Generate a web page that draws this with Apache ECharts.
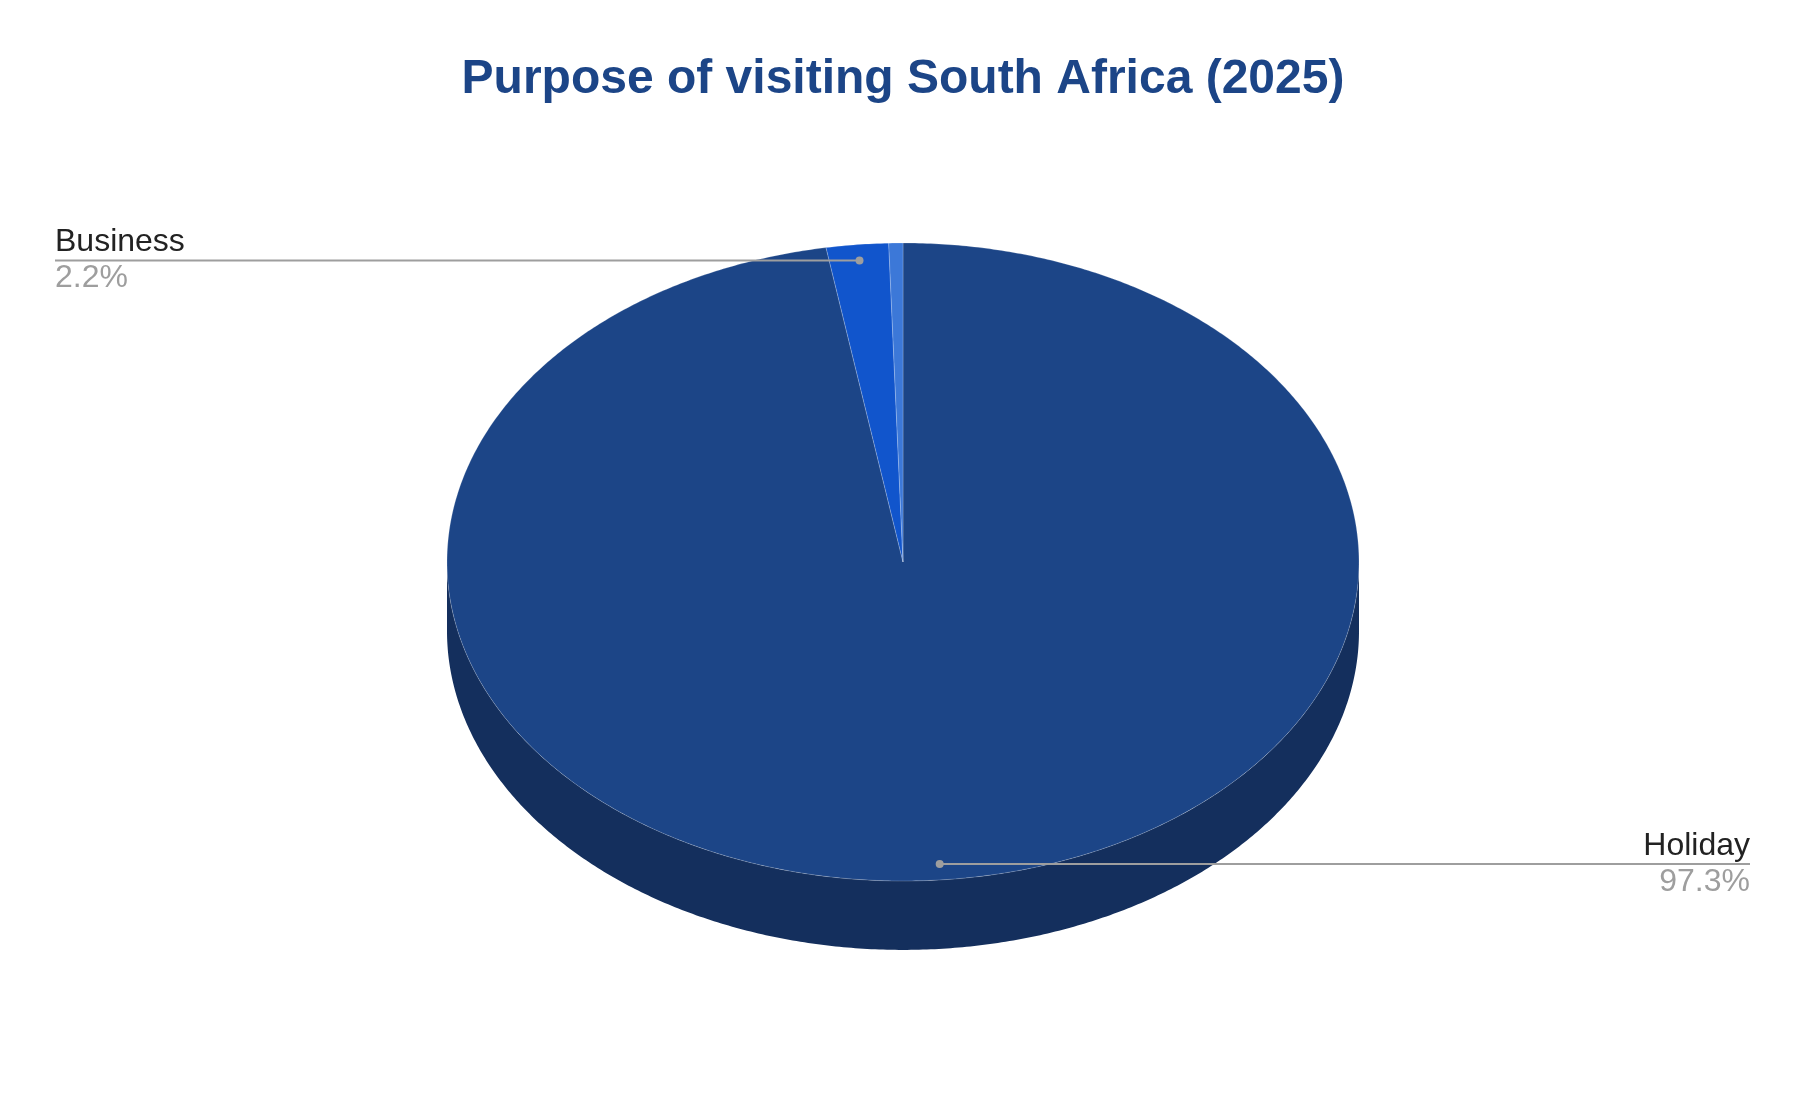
<!DOCTYPE html>
<html>
<head>
<meta charset="utf-8">
<script src="https://cdn.jsdelivr.net/npm/echarts@6/dist/echarts.min.js"></script>
<style>
html, body { margin: 0; padding: 0; background: #ffffff; }
#chart { width: 1806px; height: 1108px; }
</style>
</head>
<body>
<div id="chart"></div>
<script>
// ---- data ----
const categories = ['Holiday', 'Business', 'Other'];
const values = [97.3, 2.2, 0.5];
const showLabels = [true, true, false];
const titleText = 'Purpose of visiting South Africa (2025)';

// ---- styles ----
const topColors = ['#1c4587', '#1155cc', '#3c78d8'];
const sideColors = ['#142f5d', '#0c3c91', '#2a559b'];
const DEPTH = 0.216;           // side wall height relative to vertical radius
const LABEL_FONT = 'Liberation Sans, Arial, sans-serif';

const total = values.reduce((a, b) => a + b, 0);
const starts = [];
(function () { let acc = 0; values.forEach(v => { starts.push(acc); acc += v; }); })();

function sliceAngles(i) {
  return [starts[i] / total * 2 * Math.PI, (starts[i] + values[i]) / total * 2 * Math.PI];
}
function pt(api, t, r, dy) {
  return api.coord([r * Math.sin(t), r * Math.cos(t) - (dy || 0)]);
}
function arcPoints(api, t0, t1, r, dy) {
  const n = Math.max(2, Math.ceil((t1 - t0) / (Math.PI / 360)));
  const pts = [];
  for (let k = 0; k <= n; k++) pts.push(pt(api, t0 + (t1 - t0) * k / n, r, dy));
  return pts;
}

function renderSide(params, api) {
  const i = params.dataIndex;
  const [t0, t1] = sliceAngles(i);
  const s = Math.max(t0, Math.PI / 2), e = Math.min(t1, 3 * Math.PI / 2);
  if (e <= s) return null;
  const upper = arcPoints(api, s, e, 1, 0);
  const lower = arcPoints(api, s, e, 1, DEPTH).reverse();
  return {
    type: 'polygon',
    shape: { points: upper.concat(lower) },
    style: { fill: sideColors[i] }
  };
}

function renderTop(params, api) {
  const i = params.dataIndex;
  const [t0, t1] = sliceAngles(i);
  const c = api.coord([0, 0]);
  const pts = [c].concat(arcPoints(api, t0, t1, 1, 0));
  const children = [{
    type: 'polygon',
    shape: { points: pts },
    style: { fill: topColors[i], stroke: 'rgba(255,255,255,0.2)', lineWidth: 1 }
  }];
  if (showLabels[i]) {
    const m = (t0 + t1) / 2;
    const a = pt(api, m, 0.95, 0);
    const left = a[0] < c[0];
    const W = api.getWidth();
    const ex = left ? 55 : W - 56;
    const align = left ? 'left' : 'right';
    children.push({ type: 'line', shape: { x1: a[0], y1: a[1], x2: ex, y2: a[1] },
      style: { stroke: '#9e9e9e', lineWidth: 2 } });
    children.push({ type: 'circle', shape: { cx: a[0], cy: a[1], r: 4 },
      style: { fill: '#9e9e9e' } });
    children.push({ type: 'text', style: {
      text: categories[i], x: ex, y: a[1] - 2, align: align, verticalAlign: 'bottom',
      fill: '#222222', fontSize: 32, fontFamily: LABEL_FONT } });
    children.push({ type: 'text', style: {
      text: (values[i] / total * 100).toFixed(1) + '%', x: ex, y: a[1] + 2, align: align, verticalAlign: 'top',
      fill: '#9e9e9e', fontSize: 32, fontFamily: LABEL_FONT } });
  }
  return { type: 'group', children: children };
}

const seriesData = values.map((v, i) => ({ name: categories[i], value: [i, v] }));

const chart = echarts.init(document.getElementById('chart'), null, { renderer: 'canvas' });
chart.setOption({
  animation: false,
  backgroundColor: '#ffffff',
  title: {
    text: titleText,
    left: 'center',
    top: 47,
    textStyle: { fontSize: 48, fontWeight: 'bold', fontFamily: LABEL_FONT, color: '#1c4587', lineHeight: 56 }
  },
  grid: { left: 447, top: 243, width: 912, height: 638 },
  xAxis: { type: 'value', min: -1, max: 1, show: false },
  yAxis: { type: 'value', min: -1, max: 1, show: false },
  series: [
    { type: 'custom', name: 'side', renderItem: renderSide, data: seriesData, clip: false, z: 1, silent: true },
    { type: 'custom', name: 'top', renderItem: renderTop, data: seriesData, clip: false, z: 2, silent: true }
  ]
});
</script>
</body>
</html>
